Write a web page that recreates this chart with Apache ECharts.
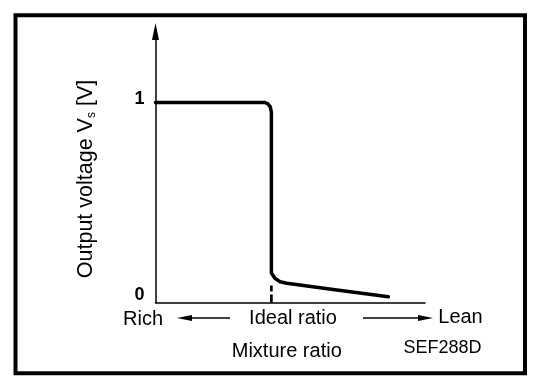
<!DOCTYPE html>
<html><head><meta charset="utf-8">
<script src="https://cdn.jsdelivr.net/npm/echarts@6/dist/echarts.min.js"></script>
<style>html,body{margin:0;padding:0;background:#fff}#c{width:560px;height:388px}</style>
</head><body><div id="c"></div>
<script>
// Data (x: mixture position 0..100, y: output voltage in V)
const mixtureRatio  = [0,   20,  40.6, 41.7,  42.6,  43.0, 43.0,   44.3,  46.2,  48.7,  67.3,   86.4];
const outputVoltage = [1.0, 1.0, 1.0,  0.993, 0.978, 0.95, 0.1475, 0.121, 0.104, 0.096, 0.0625, 0.029];
const idealRatioX = [43.0, 43.0];
const idealRatioY = [0, 0.085];
const yTickValues = [0, 1];
const directionLabels = ['Rich', 'Ideal ratio', 'Lean'];
const xAxisTitle = 'Mixture ratio';
const yAxisTitle = 'Output voltage V{sub|s} [V]';
const figureCode = 'SEF288D';

const FONT = '"Liberation Sans", Arial, Helvetica, sans-serif';
const curve = mixtureRatio.map((x, i) => [x, outputVoltage[i]]);
const ideal = idealRatioX.map((x, i) => [x, idealRatioY[i]]);

const chart = echarts.init(document.getElementById('c'), null, {renderer: 'canvas'});
chart.setOption({
  backgroundColor: '#fff',
  animation: false,
  grid: {left: 155.5, right: 135, top: 31.5, bottom: 85.5},
  xAxis: {
    type: 'value', min: 0, max: 100,
    axisLine: {show: true, lineStyle: {color: '#000', width: 1.5}},
    axisTick: {show: false}, axisLabel: {show: false}, splitLine: {show: false},
    name: xAxisTitle, nameLocation: 'middle', nameGap: 39,
    nameTextStyle: {fontFamily: FONT, fontSize: 20, color: '#000', padding: [0, 7, 0, 0]}
  },
  yAxis: {
    type: 'value', min: 0, max: 1.355, interval: 1,
    axisLine: {show: true, onZero: false, symbol: ['none', 'triangle'], symbolSize: [7, 17],
      lineStyle: {color: '#000', width: 1.5}},
    axisTick: {show: false}, splitLine: {show: false},
    axisLabel: {
      margin: 11, showMaxLabel: false,
      formatter: v => yTickValues.includes(v) ? (v === 0 ? '{z|0}' : '{o|1}') : '',
      rich: {
        z: {fontFamily: FONT, fontSize: 18, fontWeight: 'bold', color: '#000', padding: [0, 0, 15, 0]},
        o: {fontFamily: FONT, fontSize: 18, fontWeight: 'bold', color: '#000', padding: [0, 0, 7, 0]}
      }
    },
    name: yAxisTitle, nameLocation: 'middle', nameGap: 58, nameRotate: 90,
    nameTextStyle: {fontFamily: FONT, fontSize: 21.5, color: '#000', padding: [0, 24, 0, 0],
      rich: {sub: {fontFamily: FONT, fontSize: 12, color: '#000', verticalAlign: 'bottom', padding: [6, 0, 0, 0]}}}
  },
  series: [
    {type: 'line', data: curve, symbol: 'none', silent: true,
     lineStyle: {color: '#000', width: 3.5, cap: 'round', join: 'round'}},
    {type: 'line', data: ideal, symbol: 'none', silent: true,
     lineStyle: {color: '#000', width: 2.7, type: [8, 3]}}
  ],
  graphic: [
    {type: 'rect', shape: {x: 15.5, y: 15.3, width: 509.5, height: 358}, style: {fill: 'none', stroke: '#000', lineWidth: 4}},
    {type: 'text', x: 143, y: 319, style: {text: directionLabels[0], font: '20px ' + FONT, fill: '#000', align: 'center', verticalAlign: 'middle'}},
    {type: 'text', x: 293, y: 318.5, style: {text: directionLabels[1], font: '20px ' + FONT, fill: '#000', align: 'center', verticalAlign: 'middle'}},
    {type: 'text', x: 460.5, y: 317.5, style: {text: directionLabels[2], font: '20px ' + FONT, fill: '#000', align: 'center', verticalAlign: 'middle'}},
    {type: 'line', shape: {x1: 188, y1: 318, x2: 230, y2: 318}, style: {stroke: '#000', lineWidth: 1.5}},
    {type: 'polygon', shape: {points: [[177, 318], [192, 315], [192, 321]]}, style: {fill: '#000'}},
    {type: 'line', shape: {x1: 363, y1: 318, x2: 422, y2: 318}, style: {stroke: '#000', lineWidth: 1.5}},
    {type: 'polygon', shape: {points: [[433, 318], [418, 315], [418, 321]]}, style: {fill: '#000'}},
    {type: 'text', x: 442.5, y: 348.5, style: {text: figureCode, font: '18px "Liberation Sans Narrow", ' + FONT, fill: '#000', align: 'center', verticalAlign: 'middle'}}
  ]
});
</script></body></html>
